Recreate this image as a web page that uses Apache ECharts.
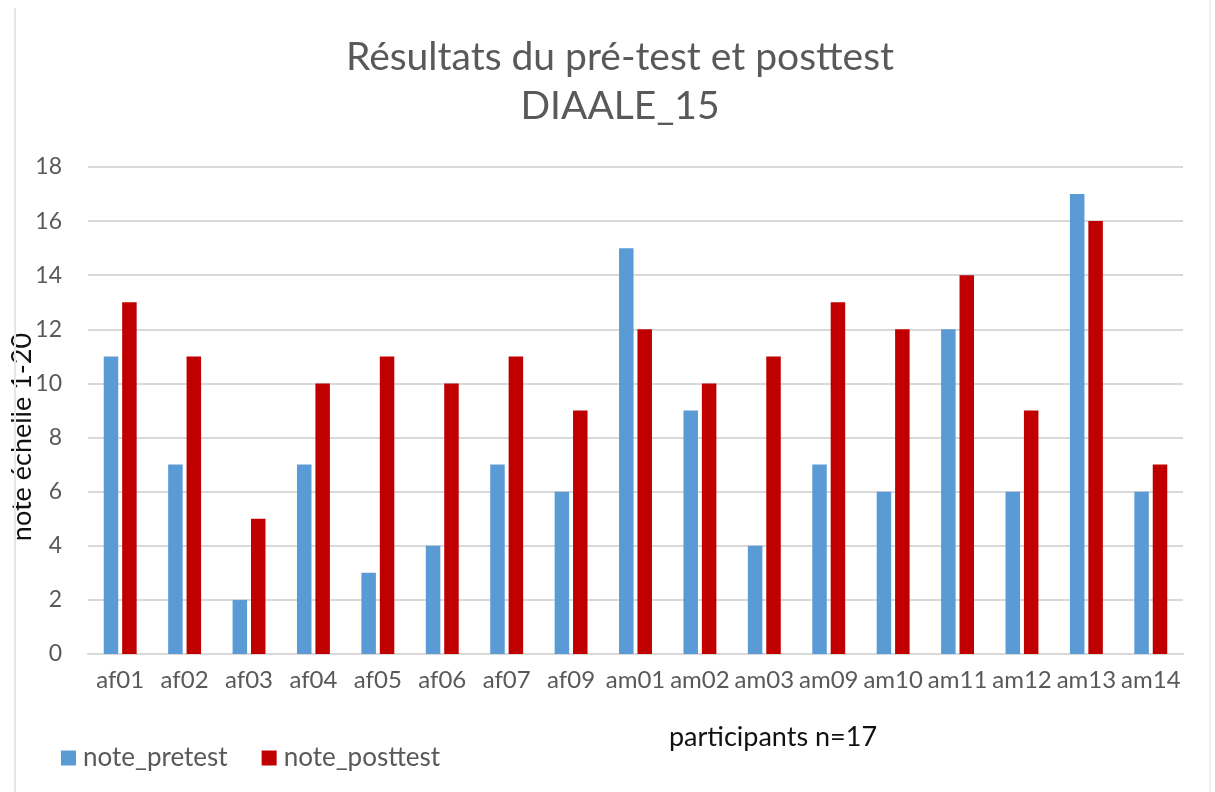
<!DOCTYPE html>
<html>
<head>
<meta charset="utf-8">
<script src="https://cdn.jsdelivr.net/npm/echarts@6/dist/echarts.min.js"></script>
<style>
  html, body { margin: 0; padding: 0; background: #ffffff; }
  #chart { width: 1215px; height: 792px; }
</style>
</head>
<body>
<div id="chart"></div>
<script>
// Participants and their scores (scale 1-20)
const participants = ['af01', 'af02', 'af03', 'af04', 'af05', 'af06', 'af07', 'af09',
  'am01', 'am02', 'am03', 'am09', 'am10', 'am11', 'am12', 'am13', 'am14'];
const notePretest = [11, 7, 2, 7, 3, 4, 7, 6, 15, 9, 4, 7, 6, 12, 6, 17, 6];
const notePosttest = [13, 11, 5, 10, 11, 10, 11, 9, 12, 10, 11, 13, 12, 14, 9, 16, 7];
const yTicks = { min: 0, max: 18, step: 2 };

const FONT = 'Lato, "Open Sans", sans-serif';
const GREY_TEXT = '#595959';

const chart = echarts.init(document.getElementById('chart'), null, { renderer: 'canvas' });

chart.setOption({
  backgroundColor: '#ffffff',
  animation: false,
  title: {
    text: 'Résultats du pré-test et posttest\nDIAALE_15',
    left: 615,
    top: 28,
    textAlign: 'center',
    textStyle: {
      fontFamily: FONT,
      fontSize: 39,
      fontWeight: 'normal',
      color: GREY_TEXT,
      lineHeight: 49
    }
  },
  legend: {
    left: 56,
    top: 740,
    itemWidth: 15,
    itemHeight: 15,
    itemGap: 34,
    icon: 'rect',
    textStyle: { fontFamily: FONT, fontSize: 26, color: GREY_TEXT, padding: [0, 0, 0, 2] },
    data: ['note_pretest', 'note_posttest']
  },
  grid: { left: 88, right: 32, top: 167, bottom: 138, containLabel: false },
  xAxis: {
    type: 'category',
    data: participants,
    axisTick: { show: false },
    axisLine: { lineStyle: { color: '#d9d9d9', width: 2 } },
    axisLabel: {
      interval: 0,
      margin: 14,
      fontFamily: FONT,
      fontSize: 24,
      color: GREY_TEXT
    }
  },
  yAxis: {
    type: 'value',
    min: yTicks.min,
    max: yTicks.max,
    interval: yTicks.step,
    axisLine: { show: false },
    axisTick: { show: false },
    splitLine: { lineStyle: { color: '#d9d9d9', width: 2 } },
    axisLabel: {
      margin: 26,
      fontFamily: FONT,
      fontSize: 23,
      color: GREY_TEXT
    }
  },
  graphic: [
    {
      // y axis title, reading bottom to top
      type: 'text',
      x: 22,
      y: 437,
      rotation: Math.PI / 2,
      style: {
        text: 'note échelle 1-20',
        x: 0,
        y: 0,
        fontFamily: FONT,
        fontSize: 27,
        fill: '#111111',
        align: 'center',
        verticalAlign: 'middle'
      }
    },
    {
      type: 'text',
      x: 773,
      y: 737,
      style: {
        text: 'participants n=17',
        x: 0,
        y: 0,
        fontFamily: FONT,
        fontSize: 27,
        fill: '#111111',
        align: 'center',
        verticalAlign: 'middle'
      }
    },
    {
      type: 'line',
      shape: { x1: 15, y1: 8, x2: 15, y2: 792 },
      style: { stroke: '#e6e6e6', lineWidth: 2 }
    },
    {
      type: 'line',
      shape: { x1: 1210, y1: 0, x2: 1210, y2: 792 },
      style: { stroke: '#f0f0f0', lineWidth: 2 }
    }
  ],
  series: [
    {
      name: 'note_pretest',
      type: 'bar',
      data: notePretest,
      barWidth: 14.5,
      barGap: '27%',
      itemStyle: { color: '#5b9bd5' }
    },
    {
      name: 'note_posttest',
      type: 'bar',
      data: notePosttest,
      barWidth: 14.5,
      itemStyle: { color: '#c00000' }
    }
  ]
});
</script>
</body>
</html>
